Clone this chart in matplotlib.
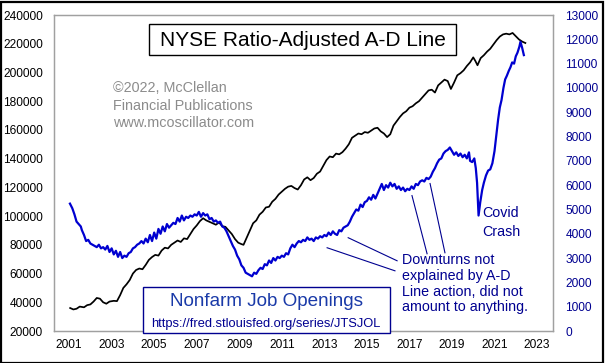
import matplotlib
matplotlib.use("Agg")
import matplotlib.pyplot as plt
from matplotlib.patches import Rectangle
from matplotlib.lines import Line2D

plt.rcParams['font.family'] = ['Liberation Sans', 'DejaVu Sans']

# ---------------- data ----------------
ad_years = [2001.05, 2001.2, 2001.35, 2001.5, 2001.7, 2001.85, 2002.0, 2002.15, 2002.3, 2002.45,
            2002.6, 2002.75, 2002.9, 2003.1, 2003.25, 2003.4, 2003.55, 2003.7, 2003.85, 2004.0,
            2004.15, 2004.3, 2004.45, 2004.6, 2004.75, 2004.9, 2005.05, 2005.2, 2005.35, 2005.5,
            2005.65, 2005.8, 2005.95, 2006.1, 2006.25, 2006.4, 2006.55, 2006.7, 2006.85, 2007.0,
            2007.15, 2007.3, 2007.45, 2007.6, 2007.75, 2007.9, 2008.05, 2008.2, 2008.35, 2008.5,
            2008.65, 2008.8, 2008.95, 2009.1, 2009.2, 2009.35, 2009.5, 2009.65, 2009.8, 2009.95,
            2010.1, 2010.25, 2010.4, 2010.55, 2010.7, 2010.85, 2011.0, 2011.15, 2011.3, 2011.45,
            2011.6, 2011.75, 2011.9, 2012.05, 2012.2, 2012.35, 2012.5, 2012.65, 2012.8, 2012.95,
            2013.1, 2013.25, 2013.4, 2013.55, 2013.7, 2013.85, 2014.0, 2014.15, 2014.3, 2014.45,
            2014.6, 2014.75, 2014.9, 2015.05, 2015.2, 2015.35, 2015.5, 2015.65, 2015.8, 2015.95,
            2016.1, 2016.25, 2016.4, 2016.55, 2016.7, 2016.85, 2017.0, 2017.15, 2017.3, 2017.45,
            2017.6, 2017.75, 2017.9, 2018.05, 2018.2, 2018.35, 2018.5, 2018.65, 2018.8, 2018.95,
            2019.1, 2019.25, 2019.4, 2019.55, 2019.7, 2019.85, 2020.0, 2020.1, 2020.2, 2020.35,
            2020.5, 2020.65, 2020.8, 2020.95, 2021.1, 2021.25, 2021.4, 2021.55, 2021.7, 2021.85,
            2021.95, 2022.05, 2022.15, 2022.3, 2022.45]
ad_values = [36000, 35000, 35500, 37000, 36500, 38000, 38500, 40500, 43000, 42500,
             40000, 39000, 40500, 41000, 40800, 45000, 50000, 52500, 55500, 60000,
             62500, 63500, 63000, 66000, 69500, 71500, 73000, 72500, 76000, 78000,
             77500, 80000, 81500, 83000, 82000, 84500, 84000, 87500, 91000, 93500,
             96500, 98500, 97000, 96000, 95000, 94000, 95500, 93000, 92500, 90000,
             87500, 84000, 81500, 80500, 80000, 85000, 90000, 95000, 97000, 101000,
             103000, 106000, 106500, 110000, 112000, 115000, 117000, 119000, 120500, 121000,
             119500, 118500, 121500, 125500, 127000, 125000, 126500, 129500, 131000, 135000,
             139000, 141500, 141000, 143500, 143000, 144500, 147000, 150000, 154500, 156000,
             157500, 157000, 158500, 158000, 159500, 161000, 161500, 159000, 157500, 155000,
             157000, 163000, 166000, 169000, 171500, 173000, 175500, 176500, 178500, 180000,
             182500, 185000, 187500, 188000, 186000, 191000, 193000, 195000, 194000, 188500,
             193000, 198000, 199500, 201500, 204500, 207000, 210500, 208000, 205000, 210000,
             212000, 214500, 216500, 219500, 222500, 225000, 226500, 227000, 226500, 227500,
             226000, 224500, 223000, 221500, 220500]

jo_years = [2001.04, 2001.15, 2001.25, 2001.35, 2001.45, 2001.55, 2001.6, 2001.7, 2001.8, 2001.9,
            2002.0, 2002.1, 2002.2, 2002.3, 2002.4, 2002.5, 2002.6, 2002.7, 2002.8, 2002.9,
            2003.0, 2003.1, 2003.2, 2003.3, 2003.4, 2003.5, 2003.6, 2003.7, 2003.8, 2003.9,
            2004.0, 2004.1, 2004.2, 2004.3, 2004.4, 2004.5, 2004.6, 2004.7, 2004.8, 2004.9,
            2005.0, 2005.1, 2005.2, 2005.3, 2005.4, 2005.5, 2005.6, 2005.7, 2005.8, 2005.9,
            2006.0, 2006.1, 2006.2, 2006.3, 2006.4, 2006.5, 2006.6, 2006.7, 2006.8, 2006.9,
            2007.0, 2007.1, 2007.2, 2007.3, 2007.4, 2007.5, 2007.6, 2007.7, 2007.8, 2007.9,
            2008.0, 2008.1, 2008.2, 2008.3, 2008.4, 2008.5, 2008.6, 2008.7, 2008.8, 2008.9,
            2009.0, 2009.1, 2009.2, 2009.3, 2009.4, 2009.5, 2009.6, 2009.7, 2009.8, 2009.9,
            2010.0, 2010.1, 2010.2, 2010.3, 2010.4, 2010.5, 2010.6, 2010.7, 2010.8, 2010.9,
            2011.0, 2011.1, 2011.2, 2011.3, 2011.4, 2011.5, 2011.6, 2011.7, 2011.8, 2011.9,
            2012.0, 2012.1, 2012.2, 2012.3, 2012.4, 2012.5, 2012.6, 2012.7, 2012.8, 2012.9,
            2013.0, 2013.1, 2013.2, 2013.3, 2013.4, 2013.5, 2013.6, 2013.7, 2013.8, 2013.9,
            2014.0, 2014.1, 2014.2, 2014.3, 2014.4, 2014.5, 2014.6, 2014.7, 2014.8, 2014.9,
            2015.0, 2015.1, 2015.2, 2015.3, 2015.4, 2015.5, 2015.6, 2015.7, 2015.8, 2015.9,
            2016.0, 2016.1, 2016.2, 2016.3, 2016.4, 2016.5, 2016.6, 2016.7, 2016.8, 2016.9,
            2017.0, 2017.1, 2017.2, 2017.3, 2017.4, 2017.5, 2017.6, 2017.7, 2017.8, 2017.9,
            2018.0, 2018.1, 2018.2, 2018.3, 2018.4, 2018.5, 2018.6, 2018.7, 2018.8, 2018.9,
            2019.0, 2019.1, 2019.2, 2019.3, 2019.4, 2019.5, 2019.6, 2019.7, 2019.8, 2019.85,
            2019.95, 2020.05, 2020.12, 2020.18, 2020.25, 2020.33, 2020.42, 2020.5, 2020.6, 2020.7,
            2020.8, 2020.9, 2021.0, 2021.08, 2021.17, 2021.25, 2021.33, 2021.42, 2021.5, 2021.58,
            2021.67, 2021.75, 2021.83, 2021.92, 2022.0, 2022.08, 2022.17, 2022.22, 2022.3, 2022.38]
jo_values = [5240, 5050, 4800, 4500, 4400, 4300, 4150, 3950, 3700, 3750,
             3600, 3550, 3500, 3450, 3550, 3400, 3450, 3350, 3500, 3250,
             3400, 3150, 3300, 3050, 3250, 3000, 3100, 3050, 3200, 3250,
             3400, 3450, 3550, 3600, 3700, 3600, 3800, 3650, 3950, 3700,
             4050, 3800, 4200, 4000, 4300, 4100, 4400, 4250, 4350, 4450,
             4400, 4650, 4500, 4750, 4550, 4700, 4650, 4750, 4700, 4800,
             4750, 4900, 4700, 4850, 4750, 4800, 4600, 4650, 4500, 4550,
             4450, 4500, 4300, 4250, 4100, 3900, 3700, 3500, 3350, 3100,
             2950, 2700, 2600, 2400, 2350, 2300, 2250, 2400, 2350, 2500,
             2600, 2550, 2750, 2700, 2900, 2800, 3000, 2900, 3050, 3000,
             3100, 3050, 3200, 3150, 3400, 3550, 3450, 3600, 3700, 3650,
             3750, 3700, 3850, 3750, 3800, 3700, 3850, 3800, 3900, 3850,
             3950, 3900, 4050, 3950, 4100, 4000, 3950, 4150, 4100, 4250,
             4300, 4350, 4500, 4700, 4850, 5000, 4950, 5200, 5100, 5300,
             5350, 5500, 5400, 5600, 5450, 5650, 5850, 6050, 5800, 6000,
             5900, 6100, 5950, 6050, 5850, 5950, 5800, 5900, 5750, 5850,
             5800, 5950, 5850, 6050, 6000, 6150, 6200, 6150, 6300, 6250,
             6350, 6550, 6700, 6900, 7050, 7100, 7300, 7400, 7450, 7550,
             7400, 7250, 7350, 7200, 7300, 7150, 7250, 7100, 7350, 7000,
             6950, 7100, 6700, 6100, 4750, 5300, 5800, 6100, 6400, 6600,
             6650, 6900, 7400, 8000, 8700, 9200, 9500, 10000, 10350, 10500,
             10700, 10850, 11050, 11000, 11300, 11450, 11700, 11900, 11650, 11350]

left_ticks = [20000, 40000, 60000, 80000, 100000, 120000, 140000, 160000, 180000, 200000, 220000, 240000]
right_ticks = [0, 1000, 2000, 3000, 4000, 5000, 6000, 7000, 8000, 9000, 10000, 11000, 12000, 13000]
year_ticks = [2001, 2003, 2005, 2007, 2009, 2011, 2013, 2015, 2017, 2019, 2021, 2023]

# ---------------- figure ----------------
W, H = 605, 363
fig = plt.figure(figsize=(W / 100, H / 100), dpi=100)
fig.patch.set_facecolor('white')

def fx(px):
    return px / W

def fy(py):
    return 1 - py / H

L, R, T, B = 54, 553, 15, 331
ax = fig.add_axes([fx(L), fy(B), fx(R) - fx(L), fy(T) - fy(B)])
ax2 = ax.twinx()

NAVY = '#000090'
BLUE = '#0000d0'
GRAY = '#a0a0a0'

ax.plot(ad_years, ad_values, color='black', lw=1.25, zorder=2)
ax2.plot(jo_years, jo_values, color=BLUE, lw=1.6, zorder=2)

ax.set_xlim(2000.29, 2023.75)
ax.set_ylim(20000, 240000)
ax2.set_ylim(0, 13000)

ax.set_xticks(year_ticks)
ax.set_xticklabels([str(y) for y in year_ticks])
ax.set_yticks(left_ticks)
ax.set_yticklabels([str(v) for v in left_ticks])
ax2.set_yticks(right_ticks)
ax2.set_yticklabels([str(v) for v in right_ticks])

ax.tick_params(axis='both', length=0, labelsize=8.6, colors='black')
ax.tick_params(axis='x', pad=6)
ax.tick_params(axis='y', pad=8)
ax2.tick_params(axis='y', length=0, labelsize=8.6, labelcolor=NAVY, pad=9)

for a in (ax, ax2):
    for s in a.spines.values():
        s.set_color(GRAY)
        s.set_linewidth(0.9)

# annotation pointer lines (data coords of right axis)
pointer_lines = [((2013.13, 3425), (2016.32, 2476)),
                 ((2014.12, 3838), (2016.42, 2889)),
                 ((2017.12, 5571), (2017.83, 3178)),
                 ((2017.97, 6067), (2018.67, 3219))]
for (x0, y0), (x1, y1) in pointer_lines:
    ax2.plot([x0, x1], [y0, y1], color=NAVY, lw=0.8, zorder=3)

ax2.text(2016.65, 3200, "Downturns not\nexplained by A-D\nLine action, did not\namount to anything.",
         ha='left', va='top', fontsize=10.3, color=NAVY, linespacing=1.15)
ax2.text(2020.43, 4870, "Covid", ha='left', va='center', fontsize=10.3, color=NAVY)
ax2.text(2020.43, 4080, "Crash", ha='left', va='center', fontsize=10.3, color=NAVY)

# title box
fig.add_artist(Rectangle((fx(149), fy(55)), fx(456) - fx(149), fy(24) - fy(55),
                         transform=fig.transFigure, facecolor='white', edgecolor='black', lw=1.0, zorder=4))
fig.text(fx(302.5), fy(40), "NYSE Ratio-Adjusted A-D Line", ha='center', va='center',
         fontsize=15, color='black', zorder=5)

# copyright
for txt, yy in [("\u00a92022, McClellan", 88), ("Financial Publications", 106), ("www.mcoscillator.com", 123)]:
    fig.text(fx(113), fy(yy), txt, ha='left', va='center', fontsize=10.4, color='#8c8c8c', zorder=5)

# Nonfarm box
fig.add_artist(Rectangle((fx(143), fy(333)), fx(390) - fx(143), fy(287) - fy(333),
                         transform=fig.transFigure, facecolor='white', edgecolor=NAVY, lw=1.0, zorder=4))
fig.text(fx(266), fy(302), "Nonfarm Job Openings", ha='center', va='center', fontsize=13.6,
         color='#1a3aa8', zorder=5)
fig.text(fx(266), fy(324), "https://fred.stlouisfed.org/series/JTSJOL", ha='center', va='center',
         fontsize=9.3, color=NAVY, zorder=5)

# outer frame
fig.add_artist(Rectangle((0.5 / W, 0.5 / H), 1 - 2.5 / W, 1 - 2.5 / H, transform=fig.transFigure,
                         facecolor='none', edgecolor='black', lw=1.6, zorder=6))

fig.savefig('out.png', dpi=100)
